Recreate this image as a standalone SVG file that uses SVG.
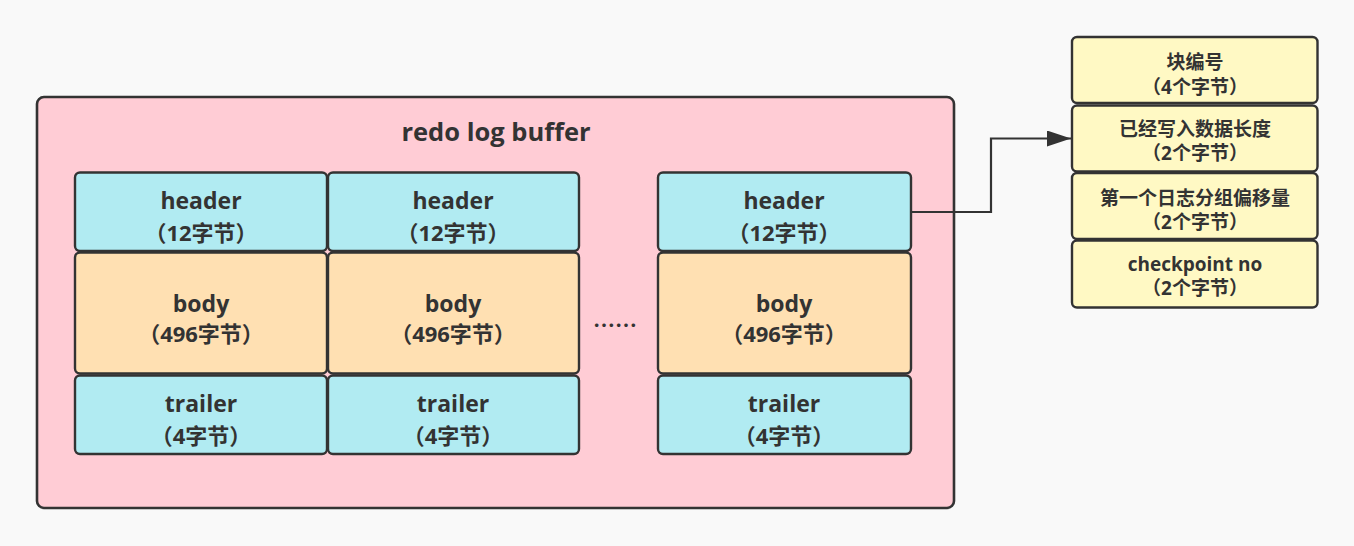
<svg xmlns="http://www.w3.org/2000/svg" width="1354" height="546" viewBox="0 0 1354 546">
<style>
text{font-family:"Open Sans","Noto Sans CJK SC",sans-serif;font-weight:bold;fill:#333;text-anchor:middle;dominant-baseline:central}
.cell{stroke:#333;stroke-width:2.4}
.hd{fill:#b1ebf2}
.bd{fill:#ffe0b2}
.yl{fill:#fff9c4}
.t22{font-size:22px}
.t23{font-size:23px}
.t18{font-size:19px}
</style>
<defs>
<marker id="ah" markerUnits="userSpaceOnUse" markerWidth="26" markerHeight="16" refX="24" refY="8" orient="auto">
<path d="M0,0 L24,8 L0,16 Z" fill="#333"/>
</marker>
</defs>
<rect width="1354" height="546" fill="#f9f9f9"/>
<g id="buffer">
<rect x="37" y="97" width="917" height="411" rx="7" fill="#ffccd5" stroke="#333" stroke-width="2.6"/>
<text x="496" y="131" style="font-size:25.5px">redo log buffer</text>
</g>
<g id="block1">
<rect class="cell hd" x="75" y="172.5" width="252" height="78.5" rx="5"/>
<text class="t23" x="201" y="200">header</text><text class="t22" x="201" y="232">（12字节）</text>
<rect class="cell bd" x="75" y="252.5" width="252" height="121" rx="5"/>
<text class="t23" x="201" y="303">body</text><text class="t22" x="201" y="333">（496字节）</text>
<rect class="cell hd" x="75" y="375.5" width="252" height="78.5" rx="5"/>
<text class="t23" x="201" y="403">trailer</text><text class="t22" x="201" y="435">（4字节）</text>
</g>
<g id="block2">
<rect class="cell hd" x="328" y="172.5" width="251" height="78.5" rx="5"/>
<text class="t23" x="453" y="200">header</text><text class="t22" x="453" y="232">（12字节）</text>
<rect class="cell bd" x="328" y="252.5" width="251" height="121" rx="5"/>
<text class="t23" x="453" y="303">body</text><text class="t22" x="453" y="333">（496字节）</text>
<rect class="cell hd" x="328" y="375.5" width="251" height="78.5" rx="5"/>
<text class="t23" x="453" y="403">trailer</text><text class="t22" x="453" y="435">（4字节）</text>
</g>
<g id="dots">
<text x="615" y="323" style="font-size:22px;font-family:'Noto Sans CJK SC',sans-serif">……</text>
</g>
<g id="block3">
<rect class="cell hd" x="658" y="172.5" width="253" height="78.5" rx="5"/>
<text class="t23" x="784" y="200">header</text><text class="t22" x="784" y="232">（12字节）</text>
<rect class="cell bd" x="658" y="252.5" width="253" height="121" rx="5"/>
<text class="t23" x="784" y="303">body</text><text class="t22" x="784" y="333">（496字节）</text>
<rect class="cell hd" x="658" y="375.5" width="253" height="78.5" rx="5"/>
<text class="t23" x="784" y="403">trailer</text><text class="t22" x="784" y="435">（4字节）</text>
</g>
<g id="header-detail">
<rect class="cell yl" x="1072" y="37" width="245.5" height="66" rx="5"/>
<text class="t18" x="1195" y="62">块编号</text><text class="t18" x="1195" y="87">（4个字节）</text>
<rect class="cell yl" x="1072" y="105.5" width="245.5" height="66" rx="5"/>
<text class="t18" x="1195" y="129">已经写入数据长度</text><text class="t18" x="1195" y="153">（2个字节）</text>
<rect class="cell yl" x="1072" y="173" width="245.5" height="66" rx="5"/>
<text class="t18" x="1195" y="198">第一个日志分组偏移量</text><text class="t18" x="1195" y="222">（2个字节）</text>
<rect class="cell yl" x="1072" y="240.5" width="245.5" height="67" rx="5"/>
<text class="t18" x="1195" y="264">checkpoint no</text><text class="t18" x="1195" y="288">（2个字节）</text>
</g>
<g id="connectors">
<path d="M911,212 H991 V138.5 H1071" fill="none" stroke="#333" stroke-width="2.2" marker-end="url(#ah)"/>
</g>
</svg>
